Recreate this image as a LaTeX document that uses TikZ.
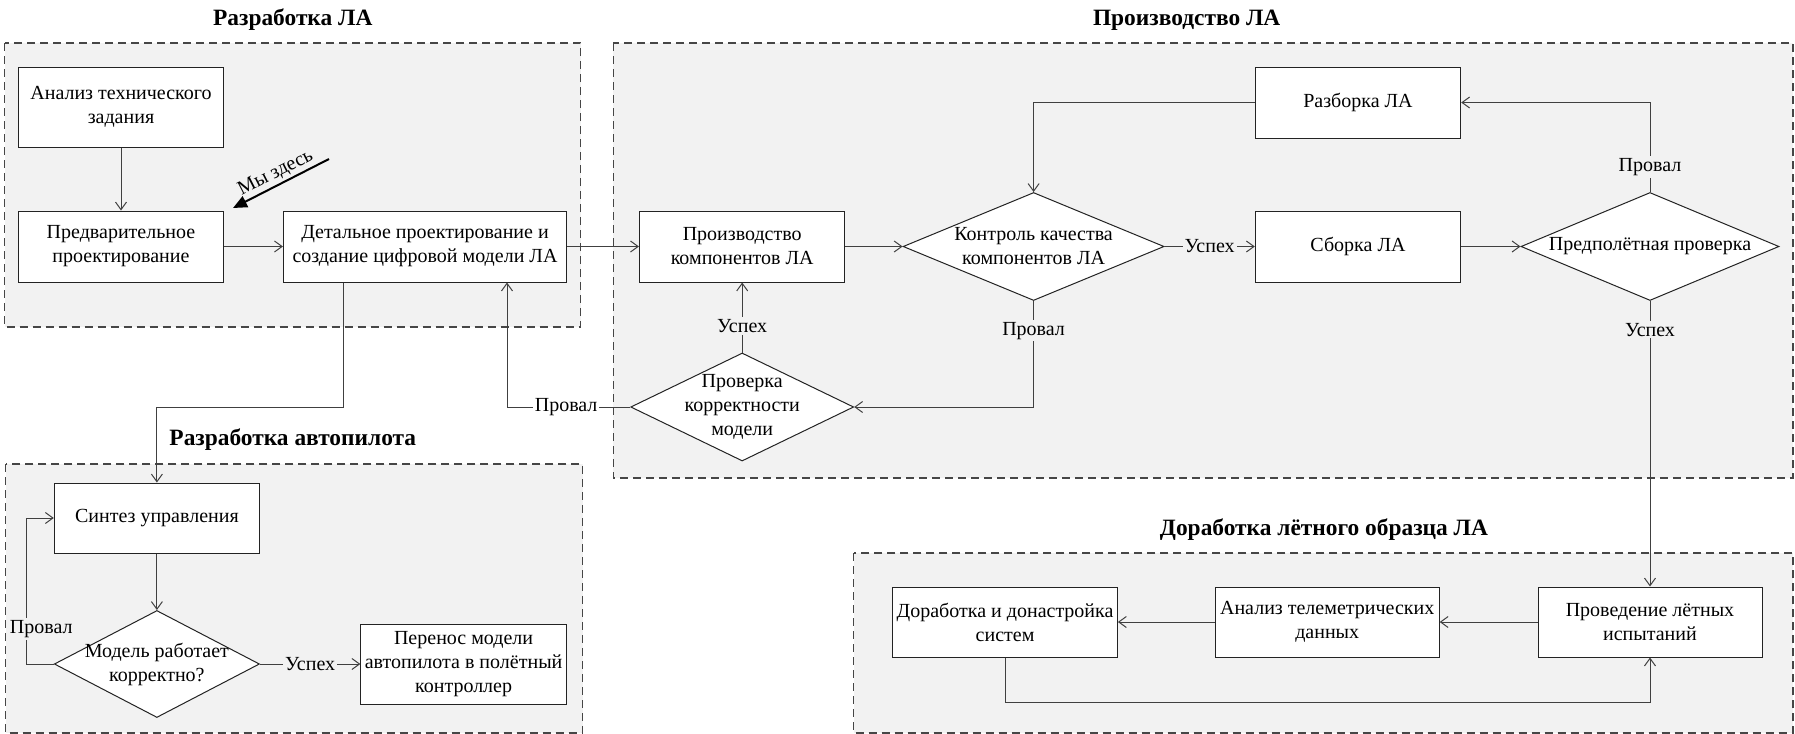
\documentclass[tikz,border=0pt]{standalone}
\usepackage{fontspec}
\setmainfont{Liberation Serif}
\usetikzlibrary{arrows.meta, calc, positioning, shapes.geometric}
\definecolor{cLine}{RGB}{64,64,64}
\definecolor{cBorder}{RGB}{35,35,35}
\definecolor{cGroup}{RGB}{242,242,242}
\definecolor{cDash}{RGB}{70,70,70}
\tikzset{
  box/.style={rectangle, draw=cBorder, fill=white, align=center,
              font=\fontsize{10}{12}\selectfont, inner xsep=1pt, inner ysep=2pt,
              line width=0.5pt},
  dia/.style={diamond, draw=cBorder, fill=white, align=center, aspect=2,
              font=\fontsize{10}{12}\selectfont, inner xsep=0pt, inner ysep=-20pt,
              line width=0.5pt},
  grp/.style={draw=cDash, fill=cGroup, dash pattern=on 4pt off 2.5pt, line width=0.65pt},
  ttl/.style={font=\bfseries\fontsize{11.7}{14}\selectfont},
  arr/.style={-{Straight Barb[length=3.8pt,width=5.5pt]}, draw=cLine, line width=0.5pt},
  lbl/.style={fill=cGroup, inner sep=1pt, font=\fontsize{10}{12}\selectfont},
  here/.style={-{Triangle[length=7pt,width=6pt]}, line width=1pt, draw=black},
}

\begin{document}
\begin{tikzpicture}[x=0.5pt, y=-0.5pt]
\useasboundingbox (0,0) rectangle (1795,734);

%% ============================================================
%% GROUPS (dashed frames) + TITLES
%% ============================================================
\draw[grp] (4.6,43)   rectangle (580.6,327);
\draw[grp] (613.4,43) rectangle (1793,478);
\draw[grp] (5.7,464)  rectangle (582.5,733);
\draw[grp] (853.7,553) rectangle (1793,733);

\node[ttl] (tDev)    at (292.8,20)  {Разработка ЛА};
\node[ttl] (tProd)   at (1186.7,20) {Производство ЛА};
\node[ttl] (tAuto)   at (292.8,440) {Разработка автопилота};
\node[ttl] (tFlight) at (1324,530)  {Доработка лётного образца ЛА};

%% ============================================================
%% DEVELOPMENT
%% ============================================================
\node[box, minimum width=102.75pt, minimum height=40pt]   (anlz)   at (121,107)   {Анализ технического\\задания};
\node[box, minimum width=102.75pt, minimum height=35.5pt] (prelim) at (121,246.5) {Предварительное\\проектирование};
\node[box, minimum width=141.6pt,  minimum height=35.5pt] (detail) at (425,246.5) {Детальное проектирование и\\создание цифровой модели ЛА};

%% ============================================================
%% PRODUCTION
%% ============================================================
\node[box, minimum width=102.75pt, minimum height=35.5pt] (prodc)  at (742.2,246.5)  {Производство\\компонентов ЛА};
\node[dia, minimum width=130.5pt,  minimum height=54pt]   (qc)     at (1033.6,246.5) {Контроль качества\\компонентов ЛА};
\node[box, minimum width=102.7pt,  minimum height=35.5pt] (razb)   at (1358,102.5)   {Разборка ЛА};
\node[box, minimum width=102.7pt,  minimum height=35.5pt] (sborka) at (1358,246.5)   {Сборка ЛА};
\node[dia, minimum width=129pt,    minimum height=54pt]   (preflt) at (1650,246.5)   {Предполётная проверка};
\node[dia, minimum width=111.5pt,  minimum height=54pt]   (check)  at (742.2,407)    {Проверка\\корректности\\модели};

%% ============================================================
%% AUTOPILOT
%% ============================================================
\node[box, minimum width=102.6pt, minimum height=35pt]   (sintez)  at (156.9,518) {Синтез управления};
\node[dia, minimum width=102.6pt, minimum height=53.5pt] (model)   at (156.9,664) {Модель работает\\корректно?};
\node[box, minimum width=102.75pt, minimum height=40pt]  (perenos) at (463.6,664) {Перенос модели\\автопилота в полётный\\контроллер};

%% ============================================================
%% FLIGHT SAMPLE
%% ============================================================
\node[box, minimum width=112.3pt, minimum height=35pt] (dorab) at (1005.1,622) {Доработка и донастройка\\систем};
\node[box, minimum width=112pt,   minimum height=35pt] (telem) at (1327.2,622) {Анализ телеметрических\\данных};
\node[box, minimum width=112pt,   minimum height=35pt] (letn)  at (1650,622)   {Проведение лётных\\испытаний};

%% ============================================================
%% CONNECTORS
%% ============================================================
\draw[arr] (anlz) -- (prelim);
\draw[arr] (prelim) -- (detail);
\draw[arr] (detail) -- (prodc);
\draw[arr] (prodc) -- (qc);
\draw[arr] (qc) -- node[lbl] {Успех} (sborka);
\draw[arr] (sborka) -- (preflt);

% pre-flight check: fail -> disassembly -> quality control
\draw[arr] (preflt.north) |- node[lbl, pos=0.14] {Провал} (razb.east);
\draw[arr] (razb.west) -| (qc.north);

% pre-flight check: success -> flight tests
\draw[arr] (preflt.south) -- node[lbl, pos=0.1] {Успех} (letn.north);

% quality control fail -> model check
\draw[arr] (qc.south) |- node[lbl, pos=0.14] {Провал} (check.east);
\draw[arr] (check.north) -- node[lbl, pos=0.38] {Успех} (prodc.south);
\draw[arr] (check.west) -| node[lbl, fill=white, pos=0.26] {Провал}
  ($(detail.south)+(82,0)$);

% digital model -> autopilot
\draw[arr] ($(detail.south)+(-82,0)$) -- ++(0,125) -| (sintez.north);
\draw[arr] (sintez) -- (model);
\draw[arr] (model) -- node[lbl] {Успех} (perenos);
\draw[arr] (model.west) -- ++(-27.5,0)
  |- node[lbl, pos=0.12, xshift=7.5pt] {Провал} (sintez.west);

% flight tests loop
\draw[arr] (letn) -- (telem);
\draw[arr] (telem) -- (dorab);
\draw[arr] (dorab.south) -- ++(0,45) -| (letn.south);

%% ============================================================
%% "WE ARE HERE" MARKER
%% ============================================================
\coordinate (hereA) at (329,159);
\coordinate (hereB) at (233,208);
\draw[here] (hereA) -- node[sloped, above, inner sep=1pt,
  font=\fontsize{10}{12}\selectfont] {Мы здесь} (hereB);

\end{tikzpicture}
\end{document}
